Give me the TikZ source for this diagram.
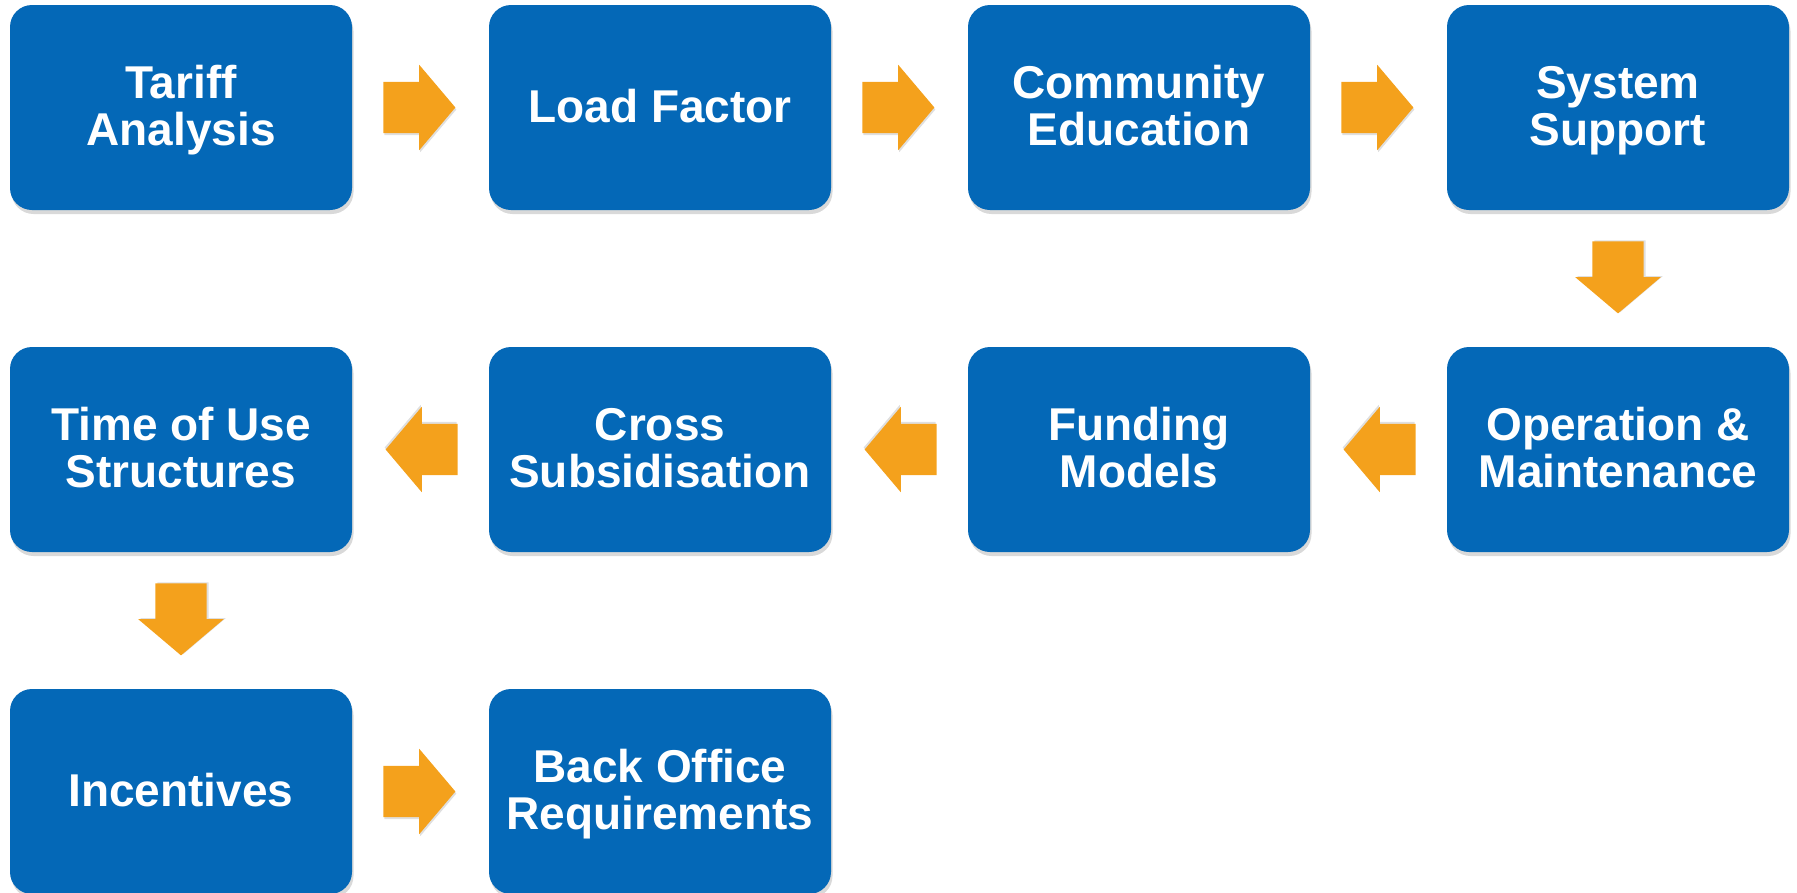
\documentclass[tikz,border=0pt]{standalone}
\usepackage{fontspec}
\setmainfont{Liberation Sans}
\usetikzlibrary{shapes.arrows,shadows}
\definecolor{boxblue}{RGB}{4,104,183}
\definecolor{arroworange}{RGB}{244,161,28}
\begin{document}
\begin{tikzpicture}[x=1pt,y=1pt]
    \tikzstyle{every node}+=[inner sep=0pt]
    \tikzstyle{stagebox}=[rectangle, rounded corners=22pt, fill=boxblue, text=white,
      minimum width=342pt, minimum height=205pt, align=center, text depth=4pt,
      font=\fontsize{46}{47}\selectfont\bfseries,
      drop shadow={shadow xshift=1.5pt, shadow yshift=-4pt, opacity=0.3}]
    \tikzstyle{flowarrow}=[single arrow, fill=arroworange, inner xsep=0pt, inner ysep=25.5pt,
      minimum height=72pt, single arrow head extend=17pt, single arrow tip angle=99.5]
    \tikzstyle{rightflow}=[flowarrow, xshift=-12pt,
      drop shadow={shadow xshift=1pt, shadow yshift=-2pt, opacity=0.25}]
    \tikzstyle{leftflow}=[flowarrow, rotate=180, xshift=-12pt,
      drop shadow={shadow xshift=-1pt, shadow yshift=2pt, opacity=0.25}]
    \tikzstyle{downflow}=[flowarrow, rotate=-90, xshift=-12pt,
      drop shadow={shadow xshift=2pt, shadow yshift=1pt, opacity=0.25}]
    \useasboundingbox (0,0) rectangle (1797,-892);
    % first row
    \node [stagebox] (tariff) at (181,-107.5) {Tariff\\Analysis};
    \node [stagebox] (load) at (660,-107.5) {Load Factor};
    \node [stagebox] (community) at (1139,-107.5) {Community\\Education};
    \node [stagebox] (system) at (1618,-107.5) {System\\Support};
    % second row
    \node [stagebox] (timeofuse) at (181,-449.5) {Time of Use\\Structures};
    \node [stagebox] (cross) at (660,-449.5) {Cross\\Subsidisation};
    \node [stagebox] (funding) at (1139,-449.5) {Funding\\Models};
    \node [stagebox] (operation) at (1618,-449.5) {Operation \&\\Maintenance};
    % third row
    \node [stagebox] (incentives) at (181,-791.5) {Incentives};
    \node [stagebox] (backoffice) at (660,-791.5) {Back Office\\Requirements};
    % arrows
    \path (tariff) -- node [rightflow] {} (load);
    \path (load) -- node [rightflow] {} (community);
    \path (community) -- node [rightflow] {} (system);
    \path (system) -- node [downflow] {} (operation);
    \path (operation) -- node [leftflow] {} (funding);
    \path (funding) -- node [leftflow] {} (cross);
    \path (cross) -- node [leftflow] {} (timeofuse);
    \path (timeofuse) -- node [downflow] {} (incentives);
    \path (incentives) -- node [rightflow] {} (backoffice);
\end{tikzpicture}
\end{document}
